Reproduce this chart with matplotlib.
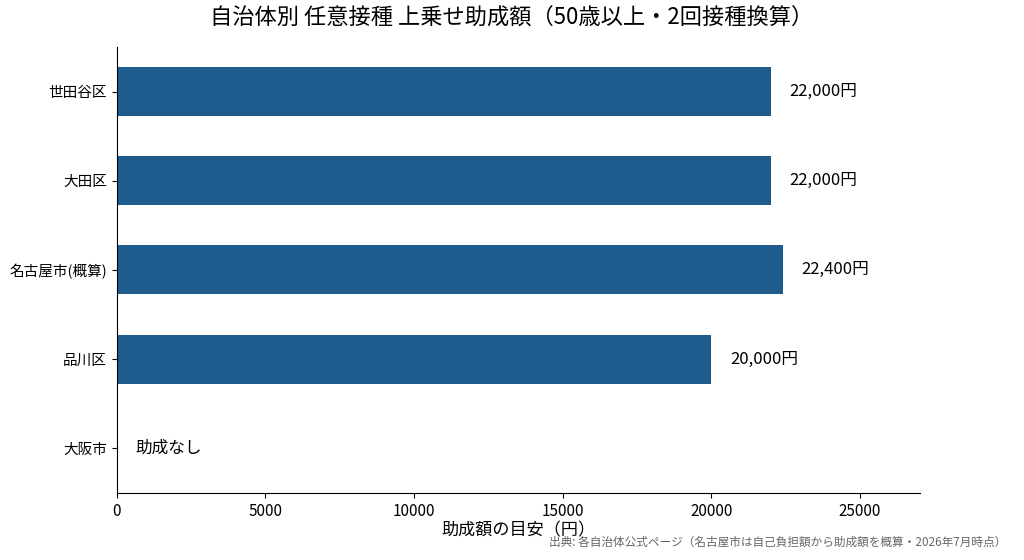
import matplotlib
matplotlib.use("Agg")
import matplotlib.pyplot as plt

plt.rcParams['font.family'] = ['Noto Sans CJK JP', 'DejaVu Sans']

# Daten
cities = ["世田谷区", "大田区", "名古屋市(概算)", "品川区", "大阪市"]
amounts = [22000, 22000, 22400, 20000, 0]
labels = ["22,000円", "22,000円", "22,400円", "20,000円", "助成なし"]

fig = plt.figure(figsize=(10.24, 5.6), dpi=100)
ax = fig.add_axes([0.114, 0.120, 0.784, 0.796])

y = range(len(cities))
ax.barh(y, amounts, height=0.55, color='#1f5c8e')

offset = 620
for i, (v, lab) in enumerate(zip(amounts, labels)):
    ax.text(v + offset, i, lab, va='center', ha='left', fontsize=12)

ax.set_yticks(list(y))
ax.set_yticklabels(cities, fontsize=10.5)
ax.set_ylim(4.5, -0.5)
ax.set_xlim(0, 27000)
ax.set_xticks([0, 5000, 10000, 15000, 20000, 25000])
ax.tick_params(axis='x', labelsize=11)

ax.spines['top'].set_visible(False)
ax.spines['right'].set_visible(False)

ax.set_xlabel("助成額の目安（円）", fontsize=12.3, labelpad=1)
fig.suptitle("自治体別 任意接種 上乗せ助成額（50歳以上・2回接種換算）", fontsize=16, y=0.99)

fig.text(0.983, 0.02, "出典: 各自治体公式ページ（名古屋市は自己負担額から助成額を概算・2026年7月時点）",
         ha='right', va='bottom', fontsize=8.4, color='#666666')

fig.savefig("out.png", dpi=100)
